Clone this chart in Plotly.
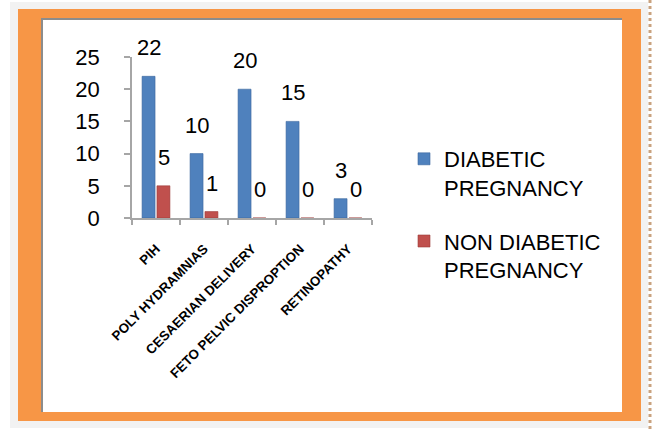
import plotly.graph_objects as go

categories = ["PIH", "POLY HYDRAMNIAS", "CESAERIAN DELIVERY", "FETO PELVIC DISPROPTION", "RETINOPATHY"]
diabetic = [22, 10, 20, 15, 3]
non_diabetic = [5, 1, 0, 0, 0]
series_names = ["DIABETIC<br>PREGNANCY", "NON DIABETIC<br>PREGNANCY"]
y_ticks = [0, 5, 10, 15, 20, 25]

W, H = 653, 429
L, R, T, B = 132, 372, 57, 218
BLUE = "#4F81BD"
RED = "#C0504D"
FONT = "Liberation Sans"

def px(x):
    return (x - L) / (R - L)

def py(y):
    return (B - y) / (B - T)

fig = go.Figure()
fig.add_trace(go.Bar(
    x=categories, y=diabetic, name=series_names[0],
    marker=dict(color=BLUE, line=dict(color="#3A679E", width=0.6)),
    width=0.27, offset=-0.29, legendgroup="a",
))
fig.add_trace(go.Bar(
    x=categories, y=non_diabetic, name=series_names[1],
    marker=dict(color=RED, line=dict(color="#9C3B38", width=0.6)),
    width=0.27, offset=0.02, legendgroup="b",
))

annotations = []
for vals, sh in ((diabetic, -7.5), (non_diabetic, 7.5)):
    for c, v in zip(categories, vals):
        annotations.append(dict(
            x=c, y=v, xref="x", yref="y", text=str(v), showarrow=False,
            xshift=sh, yshift=14, yanchor="bottom",
            font=dict(family=FONT, size=22, color="black"),
        ))

shapes = [
    # light gray page area
    dict(type="rect", xref="paper", yref="paper", x0=px(10), x1=px(648), y0=py(428), y1=py(2),
         fillcolor="#F2F2F2", line=dict(width=0), layer="below"),
    # orange frame
    dict(type="rect", xref="paper", yref="paper", x0=px(18), x1=px(641), y0=py(421), y1=py(9),
         fillcolor="#F79646", line=dict(width=0), layer="below"),
    # gray inner shadow
    dict(type="rect", xref="paper", yref="paper", x0=px(41), x1=px(622), y0=py(412), y1=py(18),
         fillcolor="#8C8C8C", line=dict(width=0), layer="below"),
    # white chart area
    dict(type="rect", xref="paper", yref="paper", x0=px(43), x1=px(622), y0=py(412), y1=py(20),
         fillcolor="white", line=dict(width=0), layer="below"),
    # dashed page edge on the right
    dict(type="line", xref="paper", yref="paper", x0=px(650), x1=px(650), y0=py(429), y1=py(0),
         line=dict(color="#C9A27E", width=3, dash="dot"), layer="below"),
]

fig.update_layout(
    width=W, height=H,
    margin=dict(l=L, r=W - R, t=T, b=H - B, autoexpand=False),
    paper_bgcolor="white", plot_bgcolor="rgba(0,0,0,0)",
    font=dict(family=FONT, size=22, color="black"),
    showlegend=True,
    legend=dict(
        xref="container", yref="container", x=404 / W, y=1 - 138 / H,
        xanchor="left", yanchor="top", valign="top",
        traceorder="grouped", tracegroupgap=22,
        font=dict(family=FONT, size=22, color="black"),
        bgcolor="rgba(0,0,0,0)",
    ),
    xaxis=dict(
        type="category", showgrid=False, showline=True, linecolor="#A6A6A6", linewidth=1.5,
        ticks="outside", tickson="boundaries", ticklen=5, tickcolor="#A6A6A6", tickwidth=1.5,
        tickangle=-45, tickfont=dict(family=FONT, size=13.4, color="black", weight="bold"),
        ticklabelstandoff=16,
        range=[-0.5, 4.5],
    ),
    yaxis=dict(
        range=[0, 25], tickvals=y_ticks, showgrid=False, zeroline=False,
        showline=True, linecolor="#A6A6A6", linewidth=1.5,
        ticks="outside", ticklen=6, tickcolor="#A6A6A6", tickwidth=1.5,
        tickfont=dict(family=FONT, size=22, color="black"), ticklabelstandoff=20,
    ),
    shapes=shapes,
    annotations=annotations,
)

fig.write_html("out.html")
